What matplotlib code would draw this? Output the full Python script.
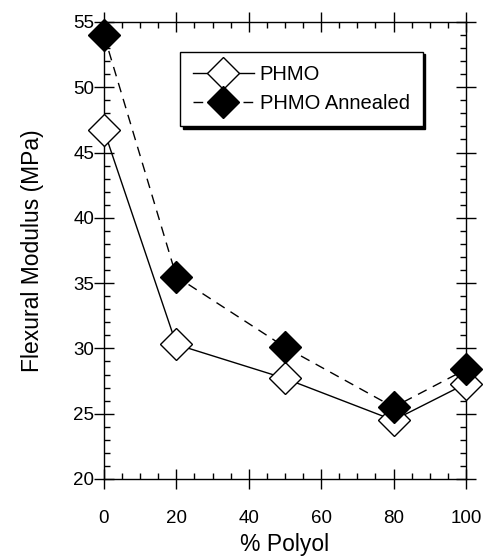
import matplotlib
matplotlib.use("Agg")
import matplotlib.pyplot as plt
from matplotlib.ticker import MultipleLocator

plt.rcParams['font.family'] = ['Liberation Sans', 'DejaVu Sans']

# data
polyol = [0, 20, 50, 80, 100]
phmo = [46.7, 30.3, 27.7, 24.5, 27.3]
phmo_annealed = [54.0, 35.5, 30.1, 25.5, 28.4]

fig = plt.figure(figsize=(4.85, 5.56), dpi=100)
ax = fig.add_axes([0.2144, 0.1385, 0.7464, 0.822])

ax.plot(polyol, phmo, color='black', lw=1.0, marker='D', markersize=16.5,
        markerfacecolor='white', markeredgecolor='black', markeredgewidth=1.0,
        label='PHMO', zorder=3, clip_on=False)
ax.plot(polyol, phmo_annealed, color='black', lw=1.0, dashes=(7, 5), marker='D',
        markersize=16.5, markerfacecolor='black', markeredgecolor='black',
        label='PHMO Annealed', zorder=4, clip_on=False)

ax.set_xlim(0, 100)
ax.set_ylim(20, 55)
ax.xaxis.set_major_locator(MultipleLocator(20))
ax.xaxis.set_minor_locator(MultipleLocator(5))
ax.yaxis.set_major_locator(MultipleLocator(5))
ax.yaxis.set_minor_locator(MultipleLocator(1))

ax.tick_params(which='major', direction='inout', length=14, width=1,
               top=True, right=True, labelsize=13.5, color='black')
ax.tick_params(which='minor', direction='in', length=4, width=1,
               top=True, right=True)
ax.tick_params(axis='x', which='major', pad=15)
ax.tick_params(axis='y', which='major', pad=0)
for s in ax.spines.values():
    s.set_linewidth(1.0)

ax.set_xlabel('% Polyol', fontsize=16.5, labelpad=5)
ax.set_ylabel('Flexural Modulus (MPa)', fontsize=16.5, labelpad=21)

leg = ax.legend(loc='upper left', bbox_to_anchor=(0.21, 0.935), fontsize=14.5,
                frameon=True, fancybox=False, edgecolor='black', framealpha=1,
                shadow={'color': 'black', 'alpha': 1}, handlelength=3.0,
                handletextpad=0.3, borderpad=0.65, labelspacing=0.5,
                borderaxespad=0)
leg.get_frame().set_linewidth(1.0)

fig.savefig('out.png', dpi=100)
